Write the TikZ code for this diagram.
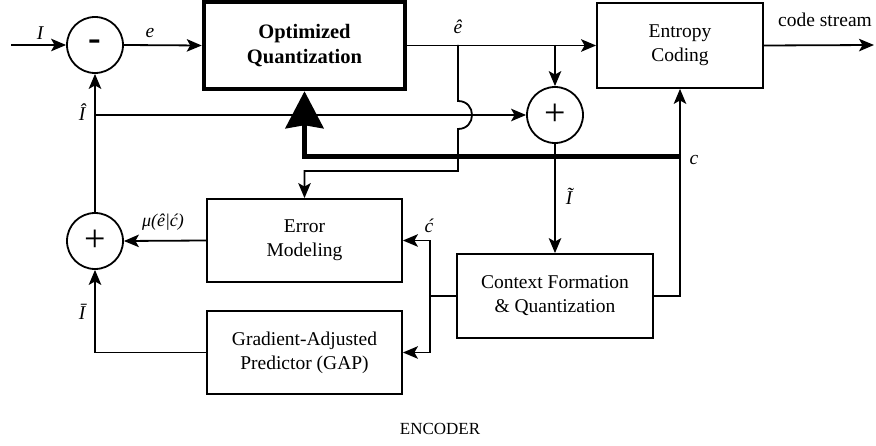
\documentclass[tikz,border=0pt]{standalone}
\usepackage{fontspec}
\setmainfont{Liberation Serif}
\usetikzlibrary{arrows.meta}

\begin{document}
\begin{tikzpicture}[x=1pt,y=-1pt,
  line width=1.8pt,
  >={Stealth[length=15pt,width=12.5pt,inset=3.5pt]},
  blk/.style={draw, rectangle, align=center, inner sep=0pt,
    font=\fontsize{19.5}{24}\selectfont},
  sumnode/.style={draw, circle, minimum size=56pt, inner sep=0pt,
    font=\fontsize{38}{38}\selectfont},
  lbl/.style={inner sep=0pt, font=\fontsize{19.5}{24}\selectfont\itshape},
  plain/.style={inner sep=0pt, font=\fontsize{19.5}{24}\selectfont},
  feedback/.style={line width=5pt,
    -{Stealth[length=37pt,width=38pt,inset=3pt]}}]

\useasboundingbox (0,0) rectangle (876,446);

% blocks
\node[sumnode] (sub) at (95,45) {\textbf{-}};
\node[blk, line width=4.5pt, minimum width=201pt, minimum height=87pt,
  font=\fontsize{20.5}{25}\selectfont\bfseries] (oq) at (304.5,45.5)
  {Optimized\\Quantization};
\node[blk, minimum width=166pt, minimum height=85pt] (ec) at (680,45.5)
  {Entropy\\Coding};
\node[sumnode] (add1) at (555,115) {+};
\node[blk, minimum width=196pt, minimum height=84pt] (cf) at (555,296)
  {Context Formation\\\& Quantization};
\node[blk, minimum width=195pt, minimum height=83pt] (em) at (304.5,240.5)
  {Error\\Modeling};
\node[blk, minimum width=195pt, minimum height=83pt] (gap) at (304.5,352.5)
  {Gradient-Adjusted\\Predictor (GAP)};
\node[sumnode] (add2) at (95,241) {+};

% junction points
\coordinate (in) at (11,45);
\coordinate (out) at (874,45);
\coordinate (jq) at (458,45);
\coordinate (ja) at (555,45);
\coordinate (hopa) at (458,101);
\coordinate (hopb) at (458,129);
\coordinate (jem) at (304.5,171);
\coordinate (jI) at (95,115);
\coordinate (jc) at (680,157);
\coordinate (jcf) at (430,296);

% signal paths
\draw[->] (in) -- (sub.west);
\draw[->] (sub.east) -- (oq.west);
\draw[->] (oq.east) -- (ec.west);
\draw[->] (ja) -- (add1.north);
\draw[->] (jq) -- (hopa)
  .. controls (476.7,101) and (476.7,129) .. (hopb)
  -- (458,171) -- (jem) -- (em.north);
\draw[->] (jI) -- (add1.west);
\draw[->] (add2.north) -- (sub.south);
\draw[->] (add1.south) -- (cf.north);
\draw[->] (cf.east) -| (ec.south);
\draw (cf.west) -- (jcf);
\draw[->] (jcf) |- (em.east);
\draw[->] (jcf) |- (gap.east);
\draw[->] (em.west) -- (add2.east);
\draw[->] (gap.west) -| (add2.south);
\draw[->] (ec.east) -- (out);
\draw[feedback] (jc) -| (oq.south);

% labels
\node[lbl] (lI) at (40,33) {I};
\node[lbl] (le) at (150,33) {e};
\node[lbl] (leh) at (458,27) {ê};
\node[lbl] (lIh) at (82,112) {Î};
\node[lbl] (lIt) at (569,196) {Ĩ};
\node[lbl] (lc) at (694,160) {c};
\node[lbl] (lca) at (429,226) {ć};
\node[lbl, font=\fontsize{18}{22}\selectfont\itshape] (lmu) at (163,222) {μ(ê|ć)};
\node[lbl] (lIb) at (82,312) {Ī};
\node[plain, anchor=base] (lcs) at (825,27) {code stream};
\node[plain, anchor=base, font=\fontsize{17}{20}\selectfont] (lenc) at (440,435) {ENCODER};

\end{tikzpicture}
\end{document}
